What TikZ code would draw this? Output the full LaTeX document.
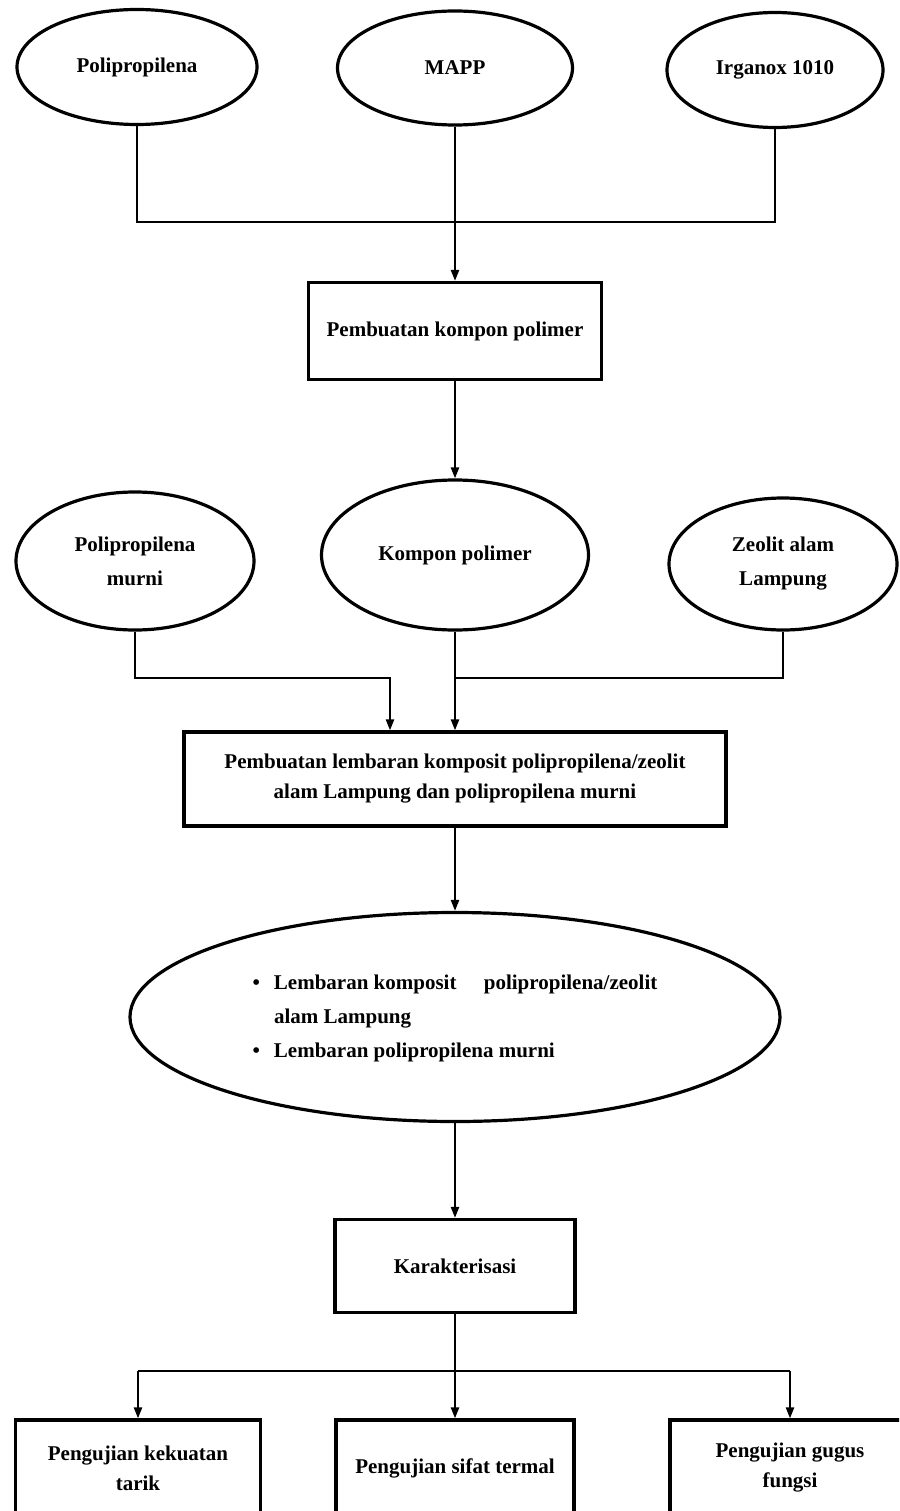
\documentclass[tikz,border=0pt]{standalone}
\usepackage{fontspec}
\setmainfont{Liberation Serif}
\usetikzlibrary{shapes.geometric}
\usetikzlibrary{arrows.meta}

\begin{document}
\begin{tikzpicture}[x=1pt, y=-1pt,
        every node/.style={font=\fontsize{21}{30}\selectfont\bfseries, align=center},
        bahan/.style={draw, ellipse, line width=3.2pt, inner sep=0pt, font=\fontsize{21}{34}\selectfont\bfseries},
        proses/.style={draw, rectangle, line width=3.2pt, inner sep=0pt},
        alir/.style={line width=2.3pt},
        panah/.style={alir, -{Triangle[length=11pt, width=8pt]}}]
        \useasboundingbox (0,0) rectangle (899,1511);
        \clip (0,0) rectangle (899,1511);

        \node[bahan, minimum width=240, minimum height=115] (pp) at (137,67) {Polipropilena};
        \node[bahan, minimum width=235, minimum height=114] (mapp) at (455,68) {MAPP};
        \node[bahan, minimum width=216, minimum height=115] (irg) at (775,70) {Irganox 1010};
        \node[proses, minimum width=293, minimum height=97] (kompon) at (455,331) {Pembuatan kompon polimer};

        \node[bahan, minimum width=238, minimum height=138] (ppm) at (135,561) {Polipropilena\\murni};
        \node[bahan, minimum width=267, minimum height=150] (kp) at (455,555) {Kompon polimer};
        \node[bahan, minimum width=228, minimum height=132] (zeo) at (783,564) {Zeolit alam\\Lampung};
        \node[proses, minimum width=542, minimum height=94] (lembaran) at (455,779)
            {Pembuatan lembaran komposit polipropilena/zeolit\\alam Lampung dan polipropilena murni};

        \node[bahan, minimum width=650, minimum height=209] (hasil) at (455,1017)
            {\begin{tabular}{@{}l@{\hspace{14pt}}l@{}}
                \textbullet & Lembaran komposit\hspace{1.3em}polipropilena/zeolit\\
                & alam Lampung\\
                \textbullet & Lembaran polipropilena murni
            \end{tabular}};
        \node[proses, minimum width=240, minimum height=93] (kar) at (455,1266) {Karakterisasi};

        \node[proses, minimum width=245, minimum height=96] (uji1) at (138,1468) {Pengujian kekuatan\\tarik};
        \node[proses, minimum width=238, minimum height=96] (uji2) at (455,1468) {Pengujian sifat termal};
        \node[proses, minimum width=240, minimum height=96] (uji3) at (790,1468) {Pengujian gugus\\fungsi};

        \coordinate (bus1) at (455,222);
        \draw[alir] (pp.south) -- (pp.south |- bus1) -- (irg.south |- bus1) -- (irg.south);
        \draw[alir] (mapp.south) -- (bus1);
        \draw[panah] (bus1) -- (kompon.north);
        \draw[panah] (kompon.south) -- (kp.north);

        \coordinate (bus2) at (390,678);
        \draw[panah] (ppm.south) -- (ppm.south |- bus2) -- (bus2) -- (bus2 |- lembaran.north);
        \draw[alir] (zeo.south) -- (zeo.south |- bus2) -- (kp.south |- bus2);
        \draw[panah] (kp.south) -- (lembaran.north);
        \draw[panah] (lembaran.south) -- (hasil.north);
        \draw[panah] (hasil.south) -- (kar.north);

        \coordinate (bus3) at (455,1371);
        \draw[alir] (kar.south) -- (bus3);
        \draw[alir] (uji1.north |- bus3) -- (uji3.north |- bus3);
        \draw[panah] (bus3) -- (uji2.north);
        \draw[panah] (uji1.north |- bus3) -- (uji1.north);
        \draw[panah] (uji3.north |- bus3) -- (uji3.north);
    \end{tikzpicture}
\end{document}
